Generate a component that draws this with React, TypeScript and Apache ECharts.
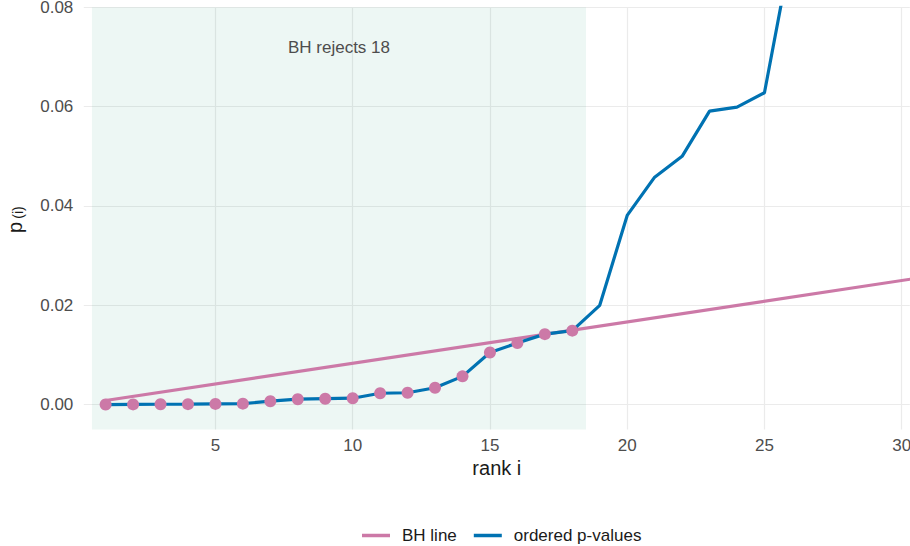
import React, { useEffect, useRef } from "react";
import * as echarts from "echarts";

// ranks and ordered p-values
const ranks = [1, 2, 3, 4, 5, 6, 7, 8, 9, 10, 11, 12, 13, 14, 15, 16, 17, 18, 19, 20, 21, 22, 23, 24, 25, 26, 27, 28, 29, 30];
const pValues = [
  0.00002, 0.00005, 0.00008, 0.0001, 0.00015, 0.0002, 0.0007, 0.0011, 0.0012, 0.0013,
  0.0023, 0.0024, 0.0034, 0.0057, 0.0105, 0.0124, 0.0142, 0.0149, 0.02, 0.0381,
  0.0458, 0.05, 0.0591, 0.0599, 0.0628, 0.092, 0.11, 0.13, 0.15, 0.17,
];
const rejectedCount = 18;
// BH line endpoints (rank, threshold)
const bhRanks = [1, 31];
const bhValues = [0.00083, 0.02583];
const xTicks = [5, 10, 15, 20, 25, 30];
const yTicks = [0, 0.02, 0.04, 0.06, 0.08];
const annotation = { rank: 9.5, value: 0.072, text: "BH rejects 18" };

const FONT = "Liberation Sans, Arial, Helvetica, sans-serif";
const PINK = "#CC79A7";
const BLUE = "#0072B2";

export default function App() {
  const ref = useRef<HTMLDivElement>(null);
  useEffect(() => {
    if (!ref.current) return;
    const chart = echarts.init(ref.current, null, { renderer: "svg" });
    const pData = ranks.map((r, i) => [r, pValues[i]]);
    const rejData = pData.slice(0, rejectedCount);
    const bhData = bhRanks.map((r, i) => [r, bhValues[i]]);
    chart.setOption({
      animation: false,
      textStyle: { fontFamily: FONT },
      grid: {
        left: 83.8,
        top: 7.3,
        width: 826,
        height: 422.2,
        containLabel: false,
        outerBoundsMode: "none",
      },
      xAxis: {
        type: "value",
        min: 0.205,
        max: 30.295,
        name: "rank i",
        nameLocation: "middle",
        nameGap: 28,
        nameTextStyle: { fontSize: 20, color: "#1a1a1a", fontFamily: FONT },
        axisLine: { show: false },
        axisTick: { show: false, customValues: xTicks },
        axisLabel: { customValues: xTicks, fontSize: 17, color: "#4D4D4D", margin: 7, fontFamily: FONT },
        splitLine: { show: true, lineStyle: { color: "#EBEBEB", width: 1.2 } },
      },
      yAxis: {
        type: "value",
        min: -0.005,
        max: 0.08,
        axisLine: { show: false },
        axisTick: { show: false, customValues: yTicks },
        axisLabel: {
          customValues: yTicks,
          fontSize: 17,
          color: "#4D4D4D",
          margin: 10.5,
          fontFamily: FONT,
          formatter: (v: number) => v.toFixed(2),
        },
        splitLine: { show: true, lineStyle: { color: "#EBEBEB", width: 1.2 } },
      },
      legend: {
        data: ["BH line", "ordered p-values"],
        left: 357,
        top: 522,
        icon: "rect",
        itemWidth: 28,
        itemHeight: 3.5,
        itemGap: 17,
        textStyle: { fontSize: 17, color: "#1a1a1a", fontFamily: FONT, padding: [0, 0, 0, 7] },
      },
      graphic: [
        {
          type: "text",
          x: 15.2,
          y: 227.5,
          rotation: Math.PI / 2,
          style: { text: "p", fontSize: 20, fill: "#1a1a1a", fontFamily: FONT, align: "center", verticalAlign: "middle" },
        },
        {
          type: "text",
          x: 18.3,
          y: 212.5,
          rotation: Math.PI / 2,
          style: { text: "(i)", fontSize: 14, fill: "#1a1a1a", fontFamily: FONT, align: "center", verticalAlign: "middle" },
        },
      ],
      series: [
        {
          name: "_shade",
          type: "line",
          data: [],
          z: 1,
          silent: true,
          markArea: {
            silent: true,
            itemStyle: { color: "rgba(0,140,100,0.07)" },
            data: [[{ xAxis: 0.5 }, { xAxis: rejectedCount + 0.5 }]],
          },
          markPoint: {
            silent: true,
            symbol: "circle",
            symbolSize: 0,
            label: {
              show: true,
              position: "inside",
              formatter: annotation.text,
              fontSize: 17,
              color: "#4D4D4D",
              fontFamily: FONT,
            },
            data: [{ coord: [annotation.rank, annotation.value] }],
          },
        },
        {
          name: "BH line",
          type: "line",
          data: bhData,
          z: 3,
          showSymbol: false,
          symbol: "none",
          lineStyle: { color: PINK, width: 3.2 },
          itemStyle: { color: PINK },
        },
        {
          name: "ordered p-values",
          type: "line",
          data: pData,
          z: 4,
          showSymbol: false,
          symbol: "none",
          lineStyle: { color: BLUE, width: 3.2 },
          itemStyle: { color: BLUE },
        },
        {
          name: "rejected",
          type: "scatter",
          data: rejData,
          z: 5,
          symbolSize: 12,
          itemStyle: { color: PINK, opacity: 1 },
        },
      ],
    });
    return () => chart.dispose();
  }, []);
  return (
    <div
      ref={ref}
      style={{ position: "absolute", left: 0, top: 0, width: 910, height: 546, background: "#fff" }}
    />
  );
}
